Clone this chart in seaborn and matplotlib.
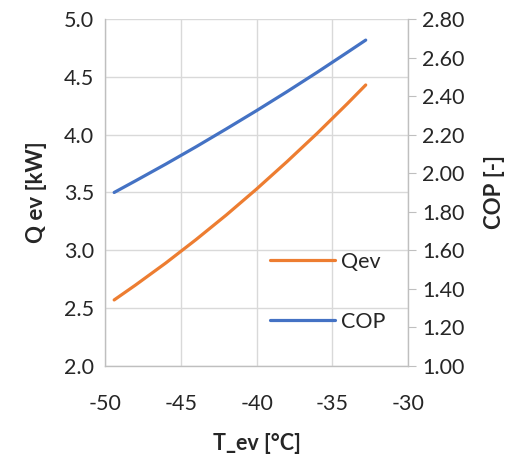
import pandas as pd
import matplotlib
matplotlib.use("Agg")
import matplotlib.pyplot as plt
import seaborn as sns

t_ev = [-49.4, -48, -46, -44, -42, -40, -38, -36, -34, -32.8]
q_ev = [2.570, 2.698, 2.889, 3.092, 3.305, 3.530, 3.766, 4.012, 4.270, 4.430]
cop = [1.900, 1.960, 2.047, 2.137, 2.230, 2.325, 2.423, 2.524, 2.628, 2.691]

df = pd.DataFrame({'T_ev': t_ev, 'Qev': q_ev, 'COP': cop})

sns.set_style("white")
plt.rcParams['font.family'] = ['Lato', 'DejaVu Sans']
plt.rcParams['axes.unicode_minus'] = False

fig = plt.figure(figsize=(5.28, 4.55), dpi=100)
ax = fig.add_axes([0.199, 0.196, 0.574, 0.762])
ax2 = ax.twinx()

sns.lineplot(data=df, x='T_ev', y='Qev', ax=ax, color='#ED7D31', linewidth=2.3, label='Qev', legend=False)
sns.lineplot(data=df, x='T_ev', y='COP', ax=ax2, color='#4472C4', linewidth=2.3, label='COP', legend=False)

ax.set_xlim(-50, -30)
ax.set_ylim(2.0, 5.0)
ax.set_xticks([-50, -45, -40, -35, -30])
ax.set_yticks([2.0, 2.5, 3.0, 3.5, 4.0, 4.5, 5.0])
ax.set_yticklabels([f"{v:.1f}" for v in [2.0, 2.5, 3.0, 3.5, 4.0, 4.5, 5.0]])
ax2.set_ylim(1.0, 2.8)
ax2.set_yticks([1.0, 1.2, 1.4, 1.6, 1.8, 2.0, 2.2, 2.4, 2.6, 2.8])
ax2.set_yticklabels([f"{v:.2f}" for v in [1.0, 1.2, 1.4, 1.6, 1.8, 2.0, 2.2, 2.4, 2.6, 2.8]])

ax.grid(True, color='#d9d9d9', linewidth=1.0)
for s in ['top', 'right']:
    ax.spines[s].set_visible(False)
for s in ['top', 'left', 'bottom']:
    ax2.spines[s].set_visible(False)
for sp in [ax.spines['left'], ax.spines['bottom'], ax2.spines['right']]:
    sp.set_color('#bfbfbf')
    sp.set_linewidth(1.0)

ax.tick_params(axis='both', length=0, labelsize=15.5, colors='#262626', pad=8)
ax2.tick_params(axis='y', length=6, color='#bfbfbf', labelsize=15.5, labelcolor='#262626', pad=4)
ax.tick_params(axis='x', pad=20)

ax.set_xlabel("T_ev [°C]", fontsize=15.5, fontweight='bold', color='#262626', labelpad=14)
ax.set_ylabel("Q ev [kW]", fontsize=16, fontweight='bold', color='#262626', labelpad=12)
ax2.set_ylabel("COP [-]", fontsize=16, fontweight='bold', color='#262626', labelpad=14)

h1, l1 = ax.get_legend_handles_labels()
h2, l2 = ax2.get_legend_handles_labels()
ax2.legend(h1 + h2, l1 + l2, loc='upper left', bbox_to_anchor=(0.48, 0.385), frameon=False,
           fontsize=15.5, labelspacing=1.85, handlelength=3.0, handletextpad=0.3, labelcolor='#262626')

fig.savefig("out.png", dpi=100)
